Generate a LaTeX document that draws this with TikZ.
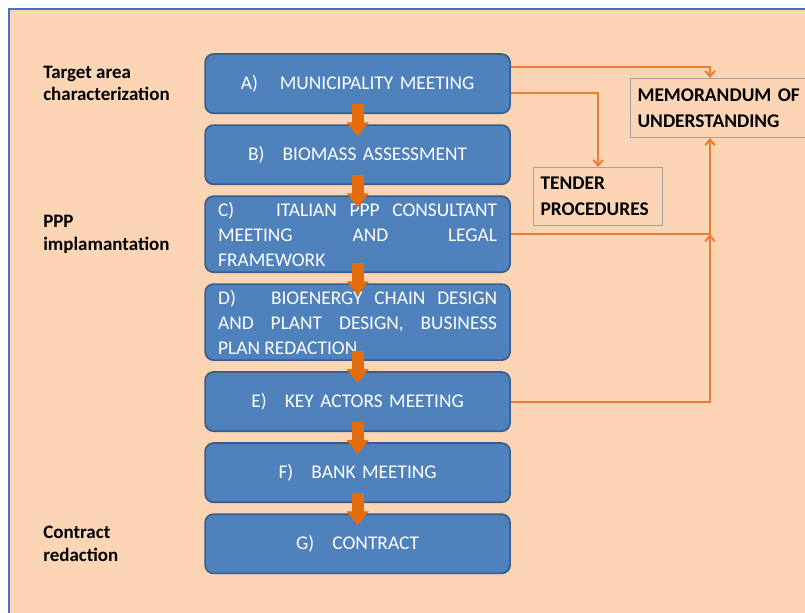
\documentclass[tikz,border=0pt]{standalone}
\usepackage{fontspec}
\setmainfont{Carlito}
\usetikzlibrary{positioning, arrows.meta, calc}

\definecolor{peach}{RGB}{252,213,181}
\definecolor{framebl}{RGB}{68,114,196}
\definecolor{stagebl}{RGB}{79,129,189}
\definecolor{stageln}{RGB}{56,93,138}
\definecolor{flowor}{RGB}{228,108,10}
\definecolor{linkor}{RGB}{237,125,49}
\definecolor{notegr}{RGB}{165,160,155}

\begin{document}
\begin{tikzpicture}[
        node distance=0.255cm,
        % --- stiluri ---
        % 1. Etapele (albastre, colturi rotunjite)
        stage/.style={
                draw=stageln,
                line width=1.2pt,
                fill=stagebl,
                rounded corners=6pt,
                text=white,
                text width=6.975cm,
                inner xsep=0.325cm,
                inner ysep=2pt,
                minimum width=7.625cm,
                minimum height=1.48cm,
                align=center,
                font=\fontsize{13.8}{17.8}\selectfont
            },
        longstage/.style={
                stage,
                align=justify,
                minimum height=1.9cm
            },
        % 2. Etichetele fazelor (stanga)
        phase/.style={
                anchor=west,
                align=left,
                inner sep=0pt,
                font=\bfseries\fontsize{13.5}{16}\selectfont
            },
        % 3. Chenarele din dreapta
        note/.style={
                draw=notegr,
                line width=0.8pt,
                fill=peach,
                anchor=north west,
                align=left,
                inner xsep=0.175cm,
                font=\bfseries\fontsize{13.8}{18.5}\selectfont
            },
        % 4. Sagetile groase dintre etape
        flow/.style={
                draw=flowor,
                line width=0.3cm,
                -{Triangle[width=0.525cm, length=0.35cm]}
            },
        % 5. Legaturile subtiri
        link/.style={
                draw=linkor,
                line width=1.4pt,
                -{Straight Barb[length=1.4mm, width=2.4mm]}
            }
    ]

    \useasboundingbox (0,0) rectangle (20.125,-15.3);

    % Fundal si chenar
    \fill[peach] (0.225,-0.225) rectangle (20.5,-15.6);
    \draw[framebl, line width=1.5pt] (0.225,-15.6) -- (0.225,-0.225) -- (20.5,-0.225);

    % 1. Etapele
    \node[stage, anchor=north] (muni) at (8.94,-1.33) {A)\hspace{0.8em} MUNICIPALITY MEETING};
    \node[stage, below=of muni] (biomass) {B)\hspace{0.6em} BIOMASS ASSESSMENT};
    \node[longstage, below=of biomass] (consult) {C)\hspace{1.5em} ITALIAN PPP CONSULTANT\linebreak MEETING AND LEGAL\linebreak FRAMEWORK};
    \node[longstage, below=of consult] (design) {D)\hspace{1.2em} BIOENERGY CHAIN DESIGN\linebreak AND PLANT DESIGN, BUSINESS\linebreak PLAN REDACTION};
    \node[stage, below=of design] (actors) {E)\hspace{0.6em} KEY ACTORS MEETING};
    \node[stage, below=of actors] (bank) {F)\hspace{0.6em} BANK MEETING};
    \node[stage, below=of bank] (contract) {G)\hspace{0.6em} CONTRACT};

    % 2. Fazele
    \coordinate (lbl) at (1.075,0);
    \node[phase] (target) at (lbl |- muni) {Target area\\characterization};
    \node[phase] (ppp) at (lbl |- consult) {PPP\\implamantation};
    \node[phase] (redact) at (lbl |- contract) {Contract\\redaction};

    % 3. Chenarele din dreapta
    \node[note, minimum width=5cm, minimum height=1.475cm, text width=4.65cm] (memo) at (15.75,-1.95) {MEMORANDUM OF\\UNDERSTANDING};
    \node[note, minimum width=3.225cm, minimum height=1.45cm, text width=2.875cm] (tender) at (13.325,-4.175) {TENDER\\PROCEDURES};

    % 4. Sagetile dintre etape
    \foreach \a/\b in {muni/biomass, biomass/consult, consult/design, design/actors, actors/bank, bank/contract}
    \draw[flow] ($(\a.south)+(0,0.25)$) -- ($(\b.north)+(0,-0.3)$);

    % 5. Legaturile
    \coordinate (trunk) at (17.75,0);
    \draw[link] ($(muni.east)+(0,0.41)$) -| (trunk |- memo.north);
    \draw[link] ($(muni.east)+(0,-0.24)$) -| (tender.north);
    \draw[link] (consult.east) -| (trunk |- memo.south);
    \draw[link] (actors.east) -| (trunk |- consult.east);

\end{tikzpicture}
\end{document}
